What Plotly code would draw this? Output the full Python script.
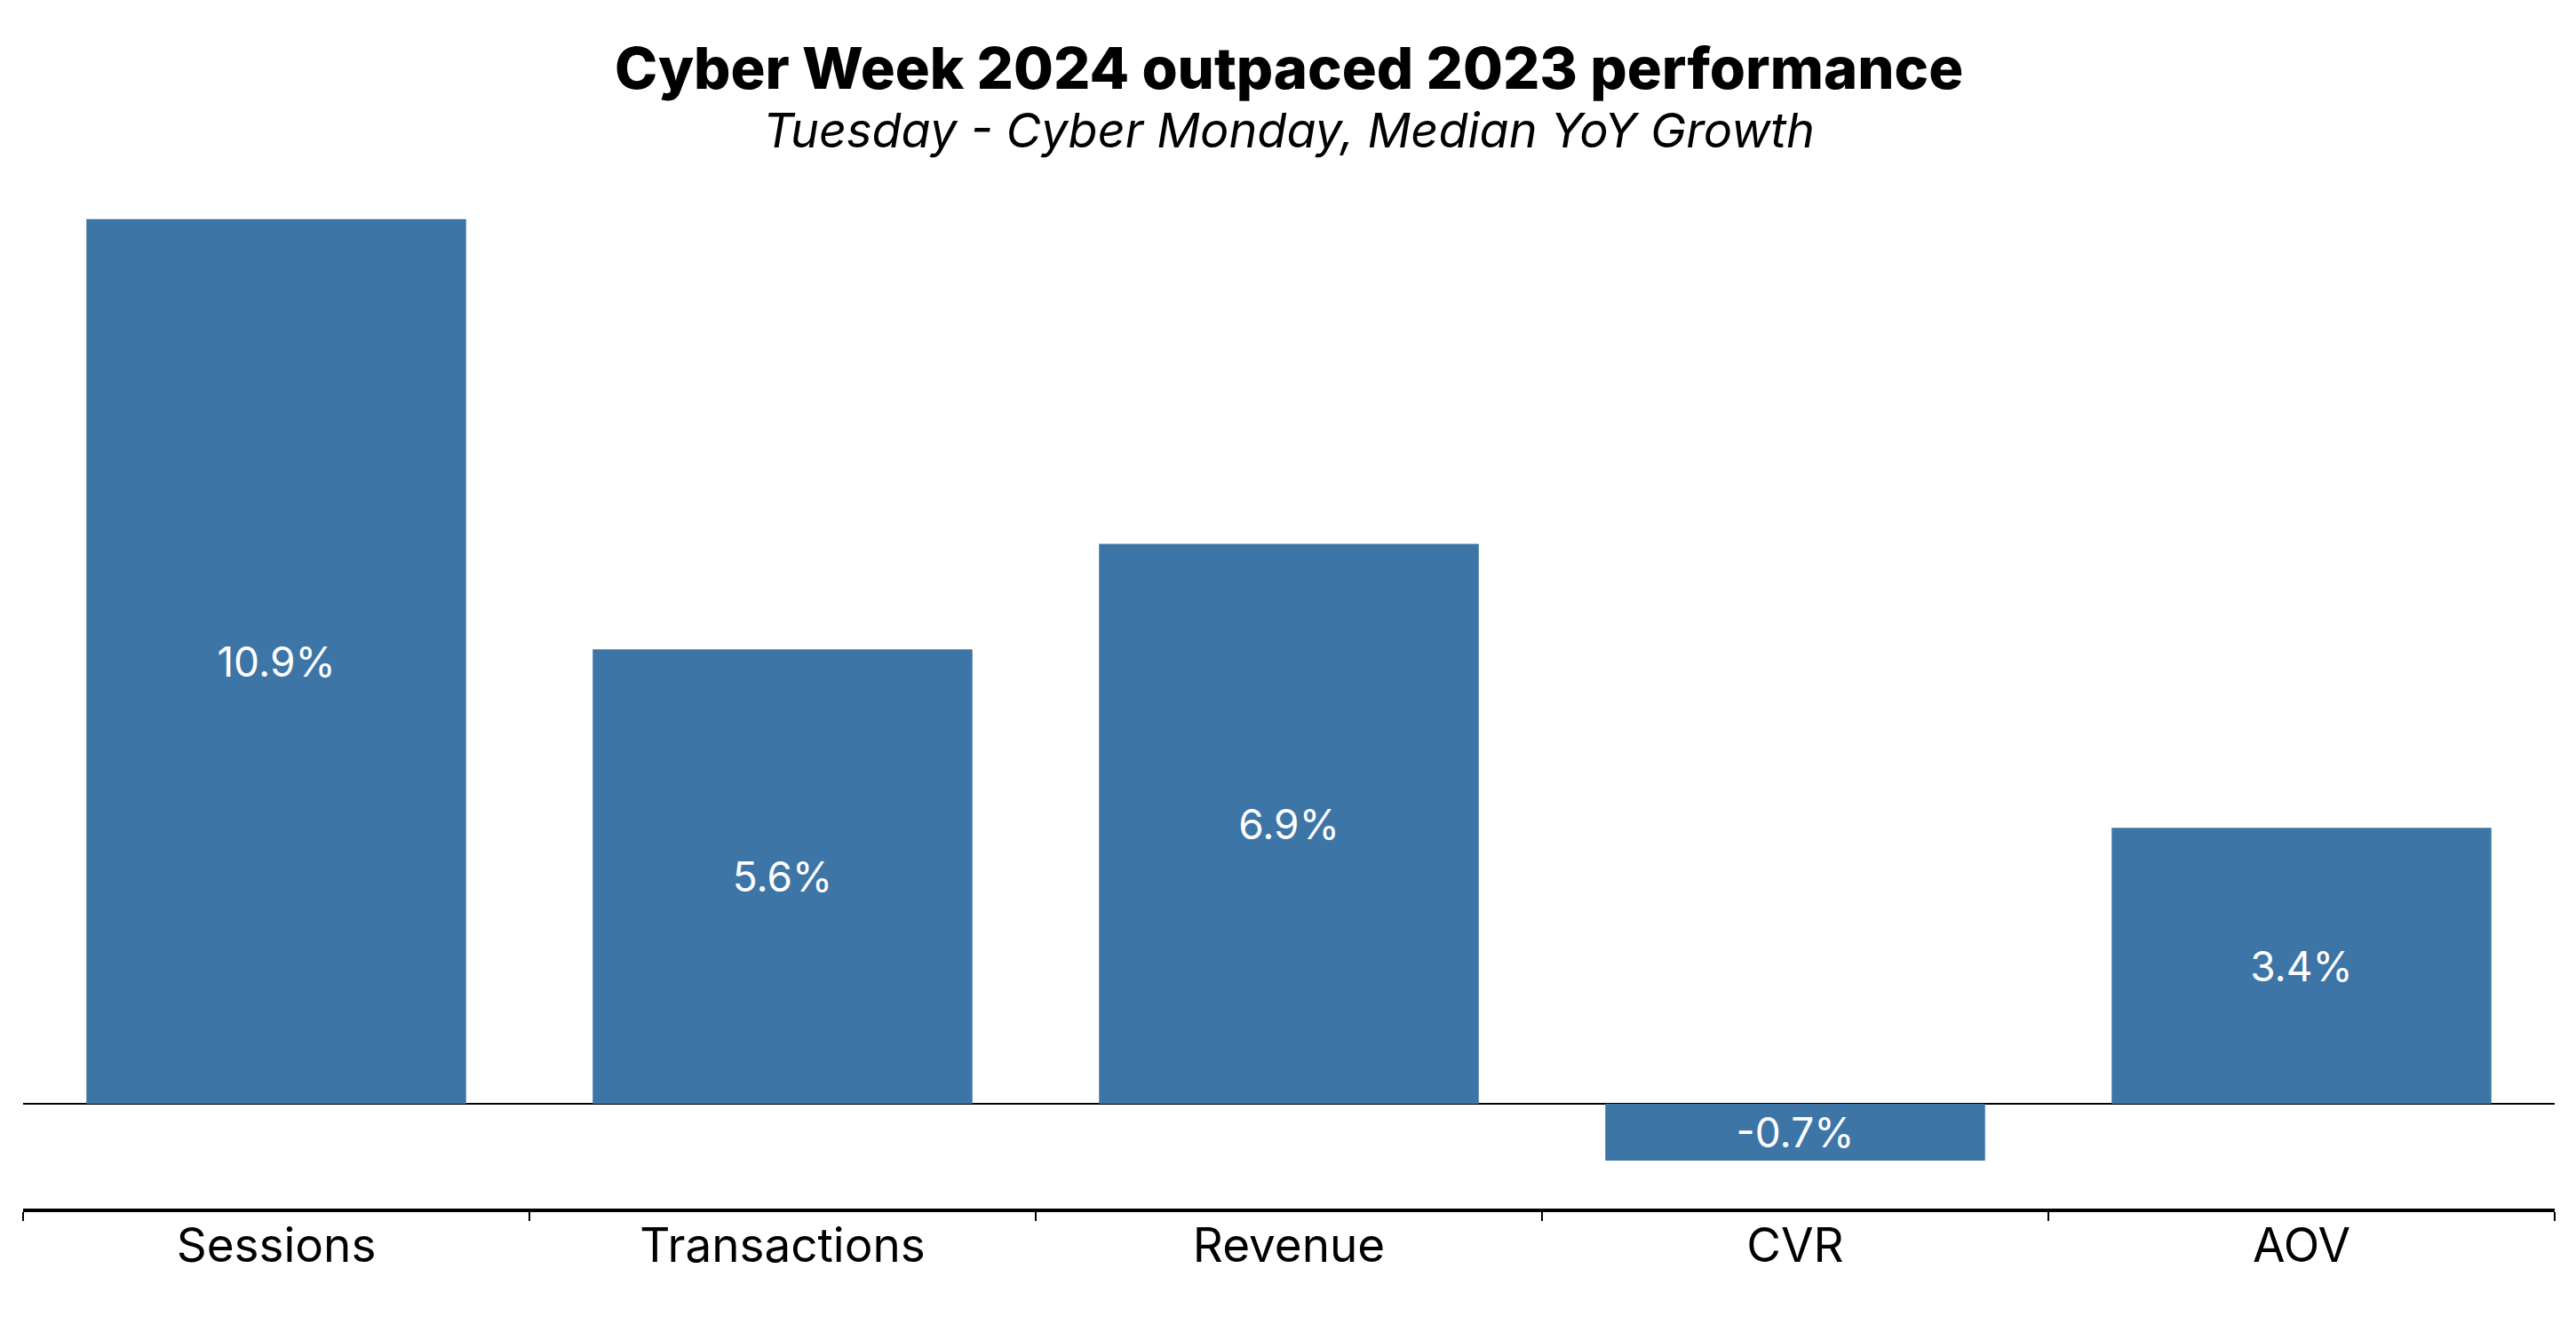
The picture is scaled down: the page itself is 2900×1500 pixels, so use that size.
import plotly.graph_objects as go

categories = ["Sessions", "Transactions", "Revenue", "CVR", "AOV"]
values = [10.9, 5.6, 6.9, -0.7, 3.4]

title_text = "Cyber Week 2024 outpaced 2023 performance"
subtitle_text = "Tuesday - Cyber Monday, Median YoY Growth"

BAR_COLOR = "#3C75A6"
FONT = "Inter"

W, H = 2900, 1500
ML, MR, MT, MB = 18, 32, 184, 147

fig = go.Figure(
    go.Bar(
        x=categories,
        y=values,
        marker=dict(color=BAR_COLOR, line=dict(width=0)),
        width=0.75,
        texttemplate="%{y:.1f}%",
        textposition="inside",
        insidetextanchor="middle",
        textangle=0,
        textfont=dict(color="white", size=46, family=FONT),
        cliponaxis=False,
    )
)

plot_h = H - MT - MB


def page_y(py):
    # pixel y measured from top of the figure -> paper coordinate
    return (H - MB - py) / plot_h


fig.update_layout(
    width=W,
    height=H,
    paper_bgcolor="white",
    plot_bgcolor="white",
    margin=dict(l=ML, r=MR, t=MT, b=MB),
    showlegend=False,
    bargap=0.25,
    uniformtext=dict(minsize=46, mode="show"),
    font=dict(family=FONT, color="black"),
    annotations=[
        dict(
            text=title_text, x=0.5, y=page_y(68), xref="paper", yref="paper",
            showarrow=False, xanchor="center", yanchor="middle",
            font=dict(size=65, family=FONT, weight=800, color="black"),
        ),
        dict(
            text="<i>" + subtitle_text + "</i>", x=0.5, y=page_y(138), xref="paper", yref="paper",
            showarrow=False, xanchor="center", yanchor="middle",
            font=dict(size=54, family=FONT, color="black"),
        ),
    ],
)

fig.update_xaxes(
    showline=True, linecolor="black", linewidth=4,
    ticks="outside", tickson="boundaries", ticklen=10, tickwidth=2, tickcolor="black",
    tickfont=dict(size=53, family=FONT, color="black"),
    ticklabelstandoff=-8,
    showgrid=False,
)
fig.update_yaxes(
    range=[-1.29, 11.5],
    showticklabels=False, showgrid=False, showline=False, ticks="",
    zeroline=True, zerolinecolor="black", zerolinewidth=2,
)

fig.write_html("out.html")
